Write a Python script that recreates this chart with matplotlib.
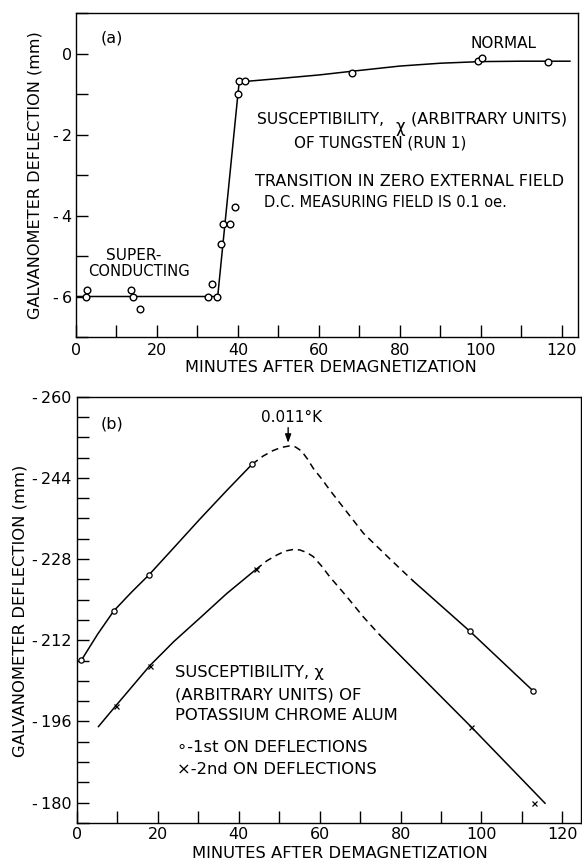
import matplotlib
matplotlib.use("Agg")
import matplotlib.pyplot as plt
from matplotlib.ticker import MultipleLocator, FixedLocator, FuncFormatter

plt.rcParams['font.family'] = ['DejaVu Sans']
plt.rcParams['axes.unicode_minus'] = False
plt.rcParams['lines.scale_dashes'] = False

W, H = 582, 860

# ---------------- panel (a) data ----------------
a_minutes = [2.5, 2.8, 13.6, 14.2, 15.7, 32.5, 33.5, 34.8, 35.8, 36.2, 38.0,
             39.3, 40.0, 40.3, 41.8, 68.1, 99.3, 100.2, 116.7]
a_deflection = [-6.0, -5.83, -5.83, -6.0, -6.3, -6.0, -5.7, -6.0, -4.71, -4.22,
                -4.22, -3.8, -1.01, -0.69, -0.69, -0.49, -0.19, -0.11, -0.21]
a_curve_x = [0, 35, 40.0, 40.3, 41.8, 50, 60, 68, 80, 90, 100, 110, 122]
a_curve_y = [-6.0, -6.0, -1.0, -0.72, -0.69, -0.62, -0.53, -0.44, -0.31, -0.24,
             -0.20, -0.19, -0.19]
a_xticks = [0, 20, 40, 60, 80, 100, 120]
a_yticks = [-6, -4, -2, 0]

# ---------------- panel (b) data ----------------
b1_minutes = [1.1, 9.1, 17.8, 43.3, 97.1, 112.8]
b1_deflection = [-208.1, -217.8, -224.9, -246.7, -213.8, -202.0]
b2_minutes = [9.6, 18.0, 44.3, 97.5, 113.0]
b2_deflection = [-199.1, -207.0, -226.0, -194.9, -180.0]

b1_solid1_x = [1.1, 5.1, 9.1, 13.5, 17.8, 24.0, 30.4, 37.0, 43.3]
b1_solid1_y = [-208.1, -213.2, -217.8, -221.5, -224.9, -230.3, -235.9, -241.5, -246.7]
b1_dash_x = [43.3, 46.0, 48.5, 50.5, 52.5, 54.0, 55.5, 57.0, 58.4, 60.5, 62.5,
             66.7, 70.8, 77.4, 83.1]
b1_dash_y = [-246.7, -248.3, -249.4, -250.0, -250.3, -250.1, -249.3, -247.7,
             -245.9, -243.8, -241.6, -237.3, -233.1, -228.0, -223.7]
b1_solid2_x = [83.1, 97.1, 112.8]
b1_solid2_y = [-223.7, -213.8, -202.0]

b2_solid1_x = [5.3, 9.6, 18.0, 24.0, 30.4, 37.0, 44.3]
b2_solid1_y = [-195.0, -199.1, -207.0, -211.8, -216.4, -221.2, -226.0]
b2_dash_x = [44.3, 47.0, 49.4, 51.5, 53.5, 55.1, 56.8, 58.4, 60.5, 62.5, 66.7,
             70.8, 74.9]
b2_dash_y = [-226.0, -227.7, -228.8, -229.6, -229.9, -229.8, -229.3, -228.5,
             -226.6, -224.5, -220.6, -216.6, -213.0]
b2_solid2_x = [74.9, 97.5, 115.7]
b2_solid2_y = [-213.0, -194.9, -179.9]

b_xticks = [0, 20, 40, 60, 80, 100, 120]
b_yticks = [-260, -244, -228, -212, -196, -180]
peak_label = "0.011°K"
peak_minute = 52.2


def fx(x):
    return x / W


def fy(y):
    return 1 - y / H


def tick_fmt(v, pos):
    s = "%d" % round(v)
    if s.startswith("-"):
        s = "-\u2009" + s[1:]
    return s


fig = plt.figure(figsize=(W / 100, H / 100), dpi=100)

ax1 = fig.add_axes([fx(76), fy(337), (578 - 76) / W, (337 - 13) / H])
ax2 = fig.add_axes([fx(77), fy(823), (581 - 77) / W, (823 - 396.7) / H])

line_kw = dict(color='black', lw=1.1)
for ax in (ax1, ax2):
    for s in ax.spines.values():
        s.set_linewidth(1.0)
    ax.tick_params(which='both', direction='in', length=8.5, width=1.0,
                   top=False, right=False, labelsize=11.5)
    ax.yaxis.set_major_formatter(FuncFormatter(tick_fmt))

# ---- panel (a)
ax1.plot(a_curve_x, a_curve_y, **line_kw)
ax1.plot(a_minutes, a_deflection, 'o', ms=4.8, mfc='white', mec='black', mew=1.0)
ax1.set_xlim(0, 124)
ax1.set_ylim(-7, 1)
ax1.xaxis.set_major_locator(FixedLocator(a_xticks))
ax1.xaxis.set_minor_locator(MultipleLocator(10))
ax1.yaxis.set_major_locator(FixedLocator(a_yticks))
ax1.yaxis.set_minor_locator(MultipleLocator(1))
ax1.tick_params(axis='x', pad=4.5)
ax1.tick_params(axis='y', pad=3)

tfs = 11.5
fig.text(fx(112), fy(38), "(a)", fontsize=tfs, ha='center', va='center')
fig.text(fx(470), fy(43), "NORMAL", fontsize=11, ha='left', va='center')
fig.text(fx(106), fy(255), "SUPER-", fontsize=11, ha='left', va='center')
fig.text(fx(88), fy(272), "CONDUCTING", fontsize=10.6, ha='left', va='center')
fig.text(fx(257), fy(119), "SUSCEPTIBILITY,", fontsize=11.2, ha='left', va='center')
fig.text(fx(400), fy(127), "χ", fontsize=12, ha='center', va='center')
fig.text(fx(411), fy(119), "(ARBITRARY UNITS)", fontsize=11.6, ha='left', va='center')
fig.text(fx(294), fy(143), "OF TUNGSTEN (RUN 1)", fontsize=10.9, ha='left', va='center')
fig.text(fx(255), fy(182), "TRANSITION IN ZERO EXTERNAL FIELD", fontsize=11.5,
         ha='left', va='center')
fig.text(fx(264), fy(203), "D.C. MEASURING FIELD IS 0.1 oe.", fontsize=10.5,
         ha='left', va='center')
fig.text(fx(35), fy(175), "GALVANOMETER DEFLECTION (mm)", fontsize=11.6,
         rotation=90, ha='center', va='center')
fig.text(fx(331), fy(367), "MINUTES AFTER DEMAGNETIZATION", fontsize=11.6,
         ha='center', va='center')

# ---- panel (b)
dash = (0, (5, 3.5))
ax2.plot(b1_solid1_x, b1_solid1_y, **line_kw)
ax2.plot(b1_dash_x, b1_dash_y, ls=dash, **line_kw)
ax2.plot(b1_solid2_x, b1_solid2_y, **line_kw)
ax2.plot(b2_solid1_x, b2_solid1_y, **line_kw)
ax2.plot(b2_dash_x, b2_dash_y, ls=dash, **line_kw)
ax2.plot(b2_solid2_x, b2_solid2_y, **line_kw)
ax2.plot(b1_minutes, b1_deflection, 'o', ms=3.8, mfc='white', mec='black', mew=0.9)
ax2.plot(b2_minutes, b2_deflection, 'x', ms=3.6, mec='black', mew=0.9)
ax2.set_xlim(0, 124.6)
ax2.set_ylim(-176, -260)
ax2.xaxis.set_major_locator(FixedLocator(b_xticks))
ax2.xaxis.set_minor_locator(MultipleLocator(10))
ax2.yaxis.set_major_locator(FixedLocator(b_yticks))
ax2.yaxis.set_minor_locator(MultipleLocator(4))
ax2.tick_params(axis='x', pad=3)
ax2.tick_params(axis='y', pad=4)

ax2.annotate("", xy=(peak_minute, -250.9), xytext=(peak_minute, -253.9),
             arrowprops=dict(arrowstyle='-|>,head_length=0.5,head_width=0.18',
                             color='black', lw=1.0, shrinkA=0, shrinkB=0))
fig.text(fx(292), fy(418), peak_label, fontsize=11, ha='center', va='center')
fig.text(fx(112), fy(424), "(b)", fontsize=tfs, ha='center', va='center')
fig.text(fx(175), fy(673), "SUSCEPTIBILITY, χ", fontsize=11.8, ha='left', va='center')
fig.text(fx(175), fy(695), "(ARBITRARY UNITS) OF", fontsize=11.8, ha='left', va='center')
fig.text(fx(175), fy(716), "POTASSIUM CHROME ALUM", fontsize=11.8, ha='left', va='center')
fig.text(fx(177), fy(748), "∘-1st ON DEFLECTIONS", fontsize=11.8, ha='left', va='center')
fig.text(fx(177), fy(770), "×-2nd ON DEFLECTIONS", fontsize=11.8, ha='left', va='center')
fig.text(fx(20), fy(611), "GALVANOMETER DEFLECTION (mm)", fontsize=11.8,
         rotation=90, ha='center', va='center')
fig.text(fx(340), fy(853), "MINUTES AFTER DEMAGNETIZATION", fontsize=11.8,
         ha='center', va='center')

fig.savefig("out.png", dpi=100)
